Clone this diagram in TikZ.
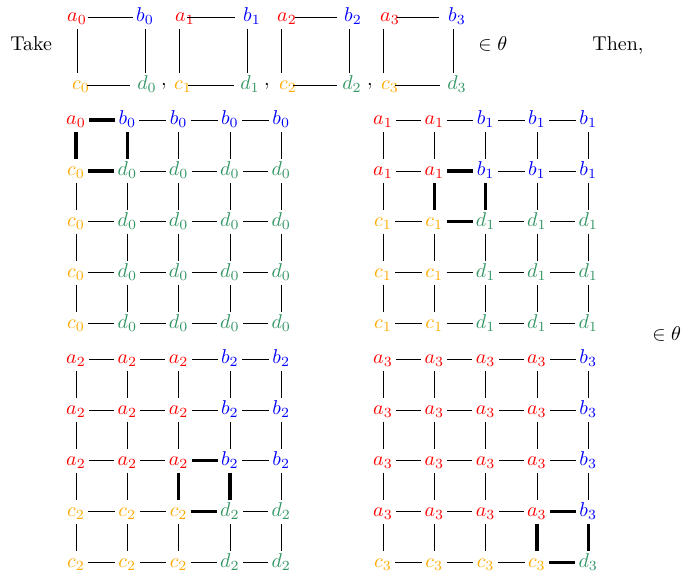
\documentclass[tikz,border=0pt]{standalone}
\definecolor{cola}{RGB}{255,0,0}
\definecolor{colb}{RGB}{0,0,255}
\definecolor{colc}{RGB}{255,170,0}
\definecolor{cold}{RGB}{50,150,100}
\tikzset{
  lbl/.style={inner xsep=1.5pt, inner ysep=2.25pt, text height=6pt, text depth=1pt},
  txt/.style={inner sep=0pt},
}
\begin{document}
\begin{tikzpicture}[x=0.5pt,y=-0.5pt]
\useasboundingbox (0,0) rectangle (682,573);
% text
\node[txt,anchor=base west] (take) at (10,51) {Take};
\node[txt,anchor=base west] (in1) at (478,50) {$\in\theta$};
\node[txt,anchor=base west] (then) at (592,51) {Then,};
\node[txt,anchor=base east] (in2) at (681.5,340) {$\in\theta$};
\node[txt] (cm1) at (164,86) {$,$};
\node[txt] (cm2) at (267,86) {$,$};
\node[txt] (cm3) at (370,86) {$,$};
% top squares
\foreach \k/\xa/\xb/\xc/\xd/\sa/\sb/\sc/\sd/\va/\vb in
  {0/77/145/81/147/5.5/-6/3/-8.5/0/0,
   1/185/252/183/250/1/-8.5/2.5/-8/-3/-2.5,
   2/287/353/288/352/4/-8/2.5/-7.5/-3/-2,
   3/390/457/390/457/3.5/-9/2.5/-8.5/-3.5/-2}{
  \node[lbl,text=cola] (ta\k) at (\xa,17) {$a_{\k}$};
  \node[lbl,text=colb] (tb\k) at (\xb,17) {$b_{\k}$};
  \node[lbl,text=colc] (tc\k) at (\xc,85) {$c_{\k}$};
  \node[lbl,text=cold] (td\k) at (\xd,85) {$d_{\k}$};
  \draw ([xshift=\sa pt]ta\k.center) -- ([xshift=\sb pt]tb\k.center);
  \draw ([xshift=\sc pt]tc\k.center) -- ([xshift=\sd pt]td\k.center);
  \draw ([xshift=\va pt]ta\k.south) -- ([xshift=\va pt]ta\k.south |- tc\k.north);
  \draw ([xshift=\vb pt]tb\k.south) -- ([xshift=\vb pt]tb\k.south |- td\k.north);
}
% grids
\foreach \k/\ox/\oy in {0/76/120,1/383/120,2/76/359,3/383/359}{
  \pgfmathtruncatemacro\kk{\k+1}
  \pgfmathtruncatemacro\kkp{\k+2}
  \foreach \r in {1,...,5}{
    \foreach \c in {1,...,5}{
      \ifnum\r>\kk
        \ifnum\c>\kk \def\lab{d}\else\def\lab{c}\fi
      \else
        \ifnum\c>\kk \def\lab{b}\else\def\lab{a}\fi
      \fi
      \node[lbl,text=col\lab] (g\k-\r-\c) at ({\ox+(\c-1)*51.3},{\oy+(\r-1)*50.9}) {$\lab_{\k}$};
    }
  }
  \foreach \r in {1,...,5}{
    \foreach \c in {1,...,4}{
      \pgfmathtruncatemacro\cn{\c+1}
      \def\lw{0.4pt}
      \ifnum\c=\kk
        \ifnum\r=\kk \def\lw{1.6pt}\fi
        \ifnum\r=\kkp \def\lw{1.6pt}\fi
      \fi
      \draw[line width=\lw] (g\k-\r-\c) -- (g\k-\r-\cn);
    }
  }
  \foreach \r in {1,...,4}{
    \foreach \c in {1,...,5}{
      \pgfmathtruncatemacro\rn{\r+1}
      \def\lw{0.4pt}
      \ifnum\r=\kk
        \ifnum\c=\kk \def\lw{1.6pt}\fi
        \ifnum\c=\kkp \def\lw{1.6pt}\fi
      \fi
      \draw[line width=\lw] (g\k-\r-\c) -- (g\k-\rn-\c);
    }
  }
}
\end{tikzpicture}
\end{document}
